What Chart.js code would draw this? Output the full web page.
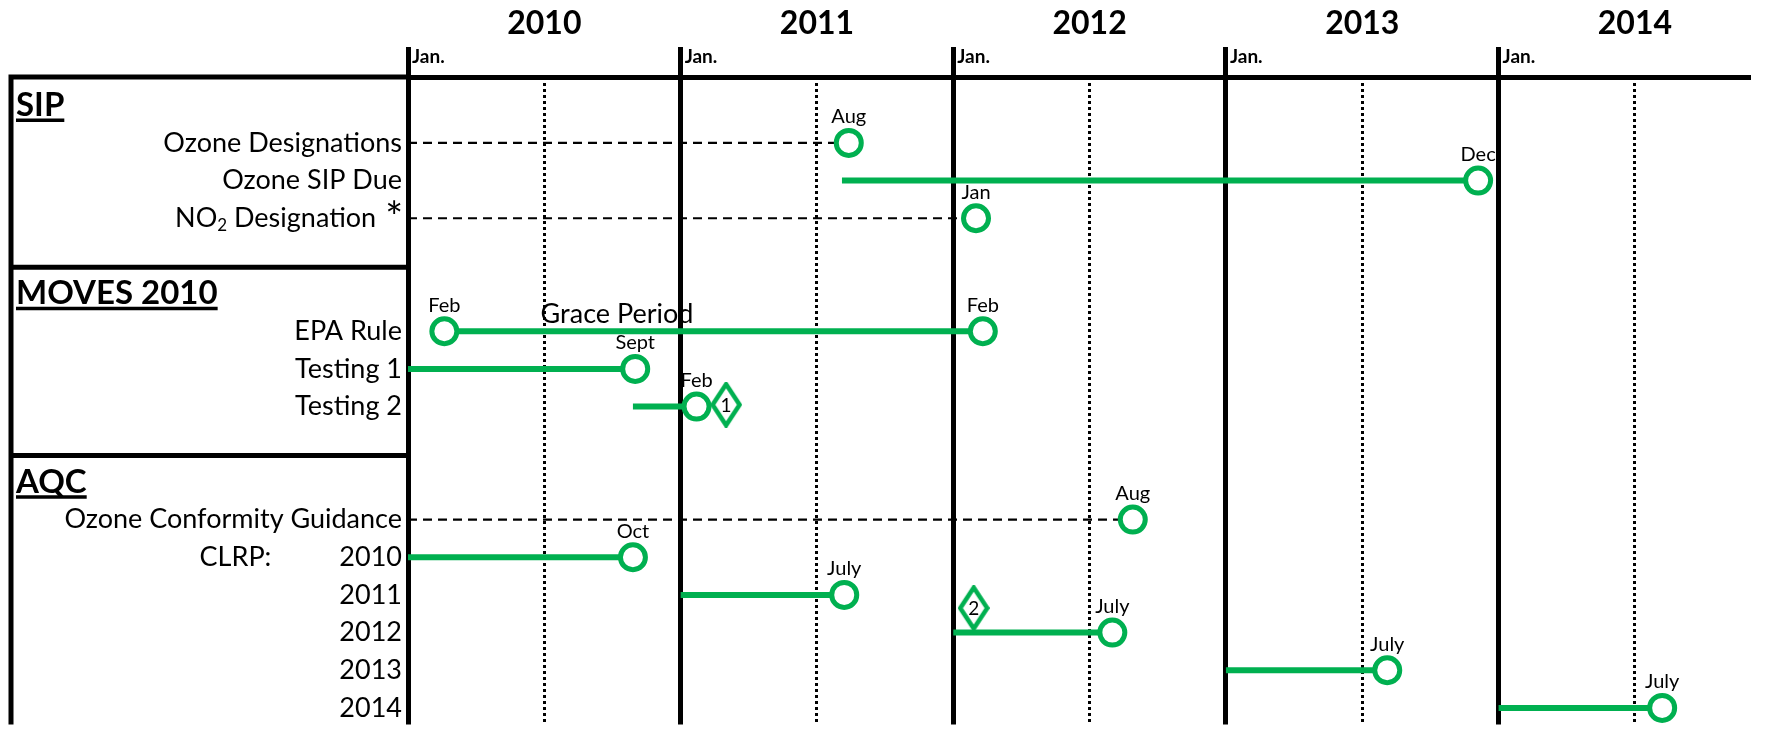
<!DOCTYPE html>
<html>
<head>
<meta charset="utf-8">
<script src="https://cdn.jsdelivr.net/npm/chart.js@4.4.1/dist/chart.umd.min.js"></script>
<style>
  html, body { margin: 0; padding: 0; background: #fff; overflow: hidden; }
  canvas { display: block; }
</style>
</head>
<body>
<canvas id="timeline" width="1766" height="742"></canvas>
<script>
// x values are months counted from Jan. 2010
const years = ['2010', '2011', '2012', '2013', '2014'];
const yearStarts = [0, 12, 24, 36, 48];
const midYears = [6, 18, 30, 42, 54];

// rows top to bottom, headers and gaps included
const rowLabels = ['SIP', 'Ozone Designations', 'Ozone SIP Due', 'NO2 Designation', '',
  'MOVES 2010', 'EPA Rule', 'Testing 1', 'Testing 2', '',
  'AQC', 'Ozone Conformity Guidance', '2010', '2011', '2012', '2013', '2014'];
const headerRows = [0, 5, 10];

// one entry per bar
const barRows = [1, 2, 3, 6, 7, 8, 11, 12, 13, 14, 15, 16];
const barStart = [0, 19.1, 0, 1.6, 0, 9.9, 0, 0, 12, 24, 36, 48];
const barEnd = [19.4, 47.1, 25.0, 25.3, 10.0, 12.7, 31.9, 9.9, 19.2, 31.0, 43.1, 55.2];
const startTags = [null, null, null, 'Feb', null, null, null, null, null, null, null, null];
const endTags = ['Aug', 'Dec', 'Jan', 'Feb', 'Sept', 'Feb', 'Aug', 'Oct', 'July', 'July', 'July', 'July'];
const dashedBars = [true, false, true, false, false, false, true, false, false, false, false, false];

// numbered diamonds
const noteTags = ['1', '2'];
const noteX = [14.0, 24.9];
const noteY = [7.95, 13.35];

const GREEN = '#00b050';
const FONT = 'Lato, "Open Sans", sans-serif';

function diamond(w, h) {
  const c = document.createElement('canvas');
  c.width = w;
  c.height = h;
  const g = c.getContext('2d');
  g.beginPath();
  g.moveTo(w / 2, 2.5);
  g.lineTo(w - 2.5, h / 2);
  g.lineTo(w / 2, h - 2.5);
  g.lineTo(2.5, h / 2);
  g.closePath();
  g.fillStyle = '#fff';
  g.fill();
  g.lineWidth = 4.5;
  g.strokeStyle = GREEN;
  g.stroke();
  return c;
}

const datasets = barRows.map((row, i) => ({
  type: 'line',
  data: [{ x: barStart[i], y: row }, { x: barEnd[i], y: row }],
  tags: [startTags[i], endTags[i]],
  borderColor: dashedBars[i] ? '#000' : GREEN,
  borderWidth: dashedBars[i] ? 2.2 : 6,
  borderDash: dashedBars[i] ? [9, 6] : [],
  pointRadius: [startTags[i] ? 12.5 : 0, 12.5],
  pointBorderWidth: 5,
  pointBorderColor: GREEN,
  pointBackgroundColor: '#fff',
}));

datasets.push({
  type: 'scatter',
  data: noteX.map((x, i) => ({ x, y: noteY[i] })),
  inside: noteTags,
  pointStyle: diamond(32, 46),
  pointRadius: 16,
});

// labels on the left, month tags, grace period text
const panel = {
  id: 'panel',
  afterDatasetsDraw(chart) {
    const { ctx } = chart;
    ctx.save();
    ctx.fillStyle = '#000';
    ctx.textAlign = 'center';
    ctx.textBaseline = 'middle';
    chart.data.datasets.forEach((ds, di) => {
      const pts = chart.getDatasetMeta(di).data;
      pts.forEach((p, j) => {
        if (ds.tags && ds.tags[j]) {
          ctx.font = '20px ' + FONT;
          ctx.fillText(ds.tags[j], p.x, p.y - 26);
        }
        if (ds.inside) {
          ctx.font = '19px ' + FONT;
          ctx.fillText(ds.inside[j], p.x, p.y + 1);
        }
      });
    });
    // grace period text over EPA Rule bar
    const xs = chart.scales.x, ys = chart.scales.y;
    ctx.font = '27px ' + FONT;
    ctx.textBaseline = 'alphabetic';
    ctx.fillText('Grace Period', xs.getPixelForValue(9.2), ys.getPixelForValue(6) - 8);
    ctx.restore();
  },
  afterDraw(chart) {
    const { ctx, chartArea: a } = chart;
    const ys = chart.scales.y;
    ctx.save();
    ctx.strokeStyle = '#000';
    ctx.lineWidth = 5;
    ctx.beginPath();
    ctx.moveTo(8.5, a.top);
    ctx.lineTo(a.left, a.top);
    ctx.moveTo(11, a.top);
    ctx.lineTo(11, a.bottom);
    headerRows.slice(1).forEach(r => {
      const py = ys.getPixelForValue(r - 0.7);
      ctx.moveTo(8.5, py);
      ctx.lineTo(a.left, py);
    });
    ctx.stroke();

    const right = a.left - 6;
    ctx.fillStyle = '#000';
    ctx.textBaseline = 'middle';
    rowLabels.forEach((label, r) => {
      if (!label) return;
      const py = ys.getPixelForValue(r);
      if (headerRows.includes(r)) {
        ctx.font = 'bold 33px ' + FONT;
        ctx.textAlign = 'left';
        ctx.fillText(label, 16, py);
        const w = ctx.measureText(label).width;
        ctx.lineWidth = 3.5;
        ctx.beginPath();
        ctx.moveTo(16, py + 15);
        ctx.lineTo(16 + w, py + 15);
        ctx.stroke();
        return;
      }
      ctx.textAlign = 'right';
      if (label === 'NO2 Designation') {
        ctx.font = '42px ' + FONT;
        ctx.fillText('*', right + 1, py);
        let x = right - ctx.measureText('*').width - 8;
        ctx.font = '27px ' + FONT;
        ctx.fillText('Designation', x, py);
        x -= ctx.measureText(' Designation').width;
        ctx.font = '17px ' + FONT;
        ctx.fillText('2', x, py + 7);
        x -= ctx.measureText('2').width;
        ctx.font = '27px ' + FONT;
        ctx.fillText('NO', x, py);
        return;
      }
      ctx.font = '27px ' + FONT;
      ctx.fillText(label, right, py);
      if (r === 12) {
        ctx.fillText('CLRP:', right - ctx.measureText(label).width - 68, py);
      }
    });
    ctx.restore();
  }
};

new Chart(document.getElementById('timeline'), {
  data: { datasets },
  plugins: [panel],
  options: {
    responsive: false,
    animation: false,
    events: [],
    layout: { padding: { left: 408, top: 3.2, right: 0, bottom: 0 } },
    plugins: { legend: { display: false }, tooltip: { enabled: false } },
    scales: {
      x: {
        type: 'linear',
        position: 'top',
        min: 0,
        max: 59,
        weight: 0,
        afterBuildTicks: s => { s.ticks = yearStarts.map(v => ({ value: v })); },
        ticks: {
          callback: () => 'Jan.',
          align: 'start',
          labelOffset: 4,
          padding: -20.8,
          autoSkip: false,
          maxRotation: 0,
          color: '#000',
          font: { family: FONT, size: 19, weight: 'bold' },
        },
        // empty title only reserves room so the Jan. labels are not clipped
        title: { display: true, text: '', font: { size: 10 }, padding: { top: 9, bottom: 0 } },
        grid: { color: '#000', lineWidth: 5, drawTicks: true, tickLength: 30 },
        border: { display: true, color: '#000', width: 5 },
      },
      x2: {
        type: 'linear',
        axis: 'x',
        position: 'top',
        min: 0,
        max: 59,
        weight: 1,
        afterBuildTicks: s => { s.ticks = midYears.map(v => ({ value: v })); },
        ticks: {
          callback: (v, i) => years[i],
          padding: 1.6,
          autoSkip: false,
          maxRotation: 0,
          color: '#000',
          font: { family: FONT, size: 32, weight: 'bold' },
        },
        grid: { color: '#000', lineWidth: 3, drawTicks: false },
        border: { display: false, dash: [3, 3] },
      },
      y: {
        type: 'linear',
        display: false,
        reverse: true,
        min: -0.75,
        max: 16.44,
      },
    },
  },
});
</script>
</body>
</html>
